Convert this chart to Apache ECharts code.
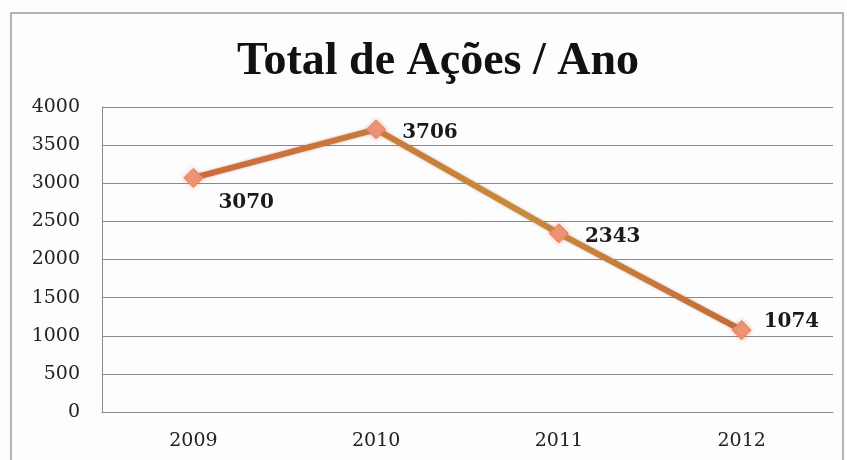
<!DOCTYPE html>
<html>
<head>
<meta charset="utf-8">
<script src="https://cdn.jsdelivr.net/npm/echarts@6/dist/echarts.min.js"></script>
<style>
  html, body { margin: 0; padding: 0; background: #fbfbfb; }
  #chart { width: 847px; height: 460px; }
</style>
</head>
<body>
<div id="chart"></div>
<script>
// Yearly totals of actions
const years = ['2009', '2010', '2011', '2012'];
const totals = [3070, 3706, 2343, 1074];
const labelPlacement = ['bottomRight', 'right', 'right', 'upperRight'];

const chart = echarts.init(document.getElementById('chart'));

const labelOffsets = {
  bottomRight: [25, 25],
  right: [26, 3],
  upperRight: [22, -8]
};

chart.setOption({
  backgroundColor: '#fdfdfd',
  animation: false,
  title: {
    text: 'Total de Ações / Ano',
    left: 232,
    top: 34,
    textStyle: {
      fontFamily: 'Liberation Serif',
      fontWeight: 'bold',
      fontSize: 46,
      color: '#111'
    }
  },
  graphic: [{
    type: 'rect',
    shape: { x: 11, y: 13, width: 832, height: 460 },
    style: { fill: 'none', stroke: '#9a9a9a', lineWidth: 1.5 },
    silent: true
  }],
  grid: { left: 102, right: 14, top: 107, bottom: 48 },
  xAxis: {
    type: 'category',
    data: years,
    boundaryGap: true,
    axisLine: { lineStyle: { color: '#8a8a8a', width: 1 } },
    axisTick: { show: false },
    axisLabel: {
      fontFamily: 'DejaVu Serif',
      fontSize: 19,
      color: '#222',
      margin: 20
    }
  },
  yAxis: {
    type: 'value',
    min: 0,
    max: 4000,
    interval: 500,
    axisLine: { show: true, lineStyle: { color: '#8a8a8a', width: 1 } },
    axisTick: { show: false },
    axisLabel: {
      fontFamily: 'DejaVu Serif',
      fontSize: 19,
      color: '#222',
      margin: 22,
      formatter: (v) => String(v)
    },
    splitLine: { lineStyle: { color: '#8a8a8a', width: 1 } }
  },
  series: [{
    type: 'line',
    data: totals.map((v, i) => ({
      value: v,
      label: { offset: labelOffsets[labelPlacement[i]] }
    })),
    symbol: 'diamond',
    symbolSize: 19,
    lineStyle: {
      width: 6,
      color: new echarts.graphic.LinearGradient(0, 0, 1, 0, [
        { offset: 0, color: '#cc6a3e' },
        { offset: 0.45, color: '#c9803c' },
        { offset: 0.6, color: '#c98a3a' },
        { offset: 1, color: '#c46a3a' }
      ]),
      shadowColor: 'rgba(120,60,20,0.35)',
      shadowBlur: 3
    },
    itemStyle: {
      color: '#ee9474',
      borderColor: '#e3825c',
      borderWidth: 1,
      shadowColor: 'rgba(230,120,90,0.5)',
      shadowBlur: 4
    },
    label: {
      show: true,
      position: 'inside',
      align: 'left',
      verticalAlign: 'middle',
      fontFamily: 'DejaVu Serif',
      fontWeight: 'bold',
      fontSize: 20,
      color: '#1a1a1a'
    }
  }]
});
</script>
</body>
</html>
